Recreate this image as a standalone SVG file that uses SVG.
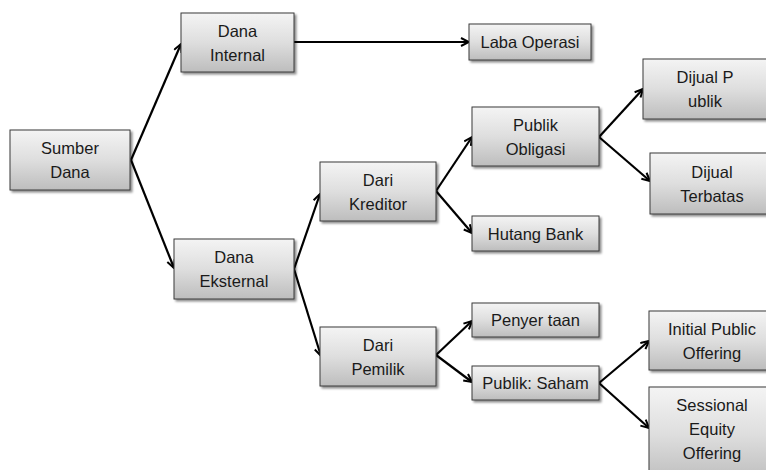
<svg xmlns="http://www.w3.org/2000/svg" width="766" height="470" viewBox="0 0 766 470">
  <defs>
    <linearGradient id="boxFill" x1="0" y1="0" x2="0" y2="1">
      <stop offset="0" stop-color="#f4f4f4"/>
      <stop offset="0.5" stop-color="#dedede"/>
      <stop offset="1" stop-color="#bdbdbd"/>
    </linearGradient>
    <filter id="shadow" x="-10%" y="-10%" width="130%" height="140%">
      <feDropShadow dx="2" dy="2" stdDeviation="1.2" flood-color="#000" flood-opacity="0.45"/>
    </filter>
    <marker id="arrow" viewBox="0 0 10 10" refX="9" refY="5" markerWidth="10" markerHeight="10" markerUnits="userSpaceOnUse" orient="auto">
      <path d="M1,1 L9,5 L1,9" fill="none" stroke="#000" stroke-width="2" stroke-linejoin="miter"/>
    </marker>
    <style>
      .box { fill: url(#boxFill); stroke: #3a3a3a; stroke-width: 1; filter: url(#shadow); }
      .lbl { font-family: "Liberation Sans", Arial, sans-serif; font-size: 16.5px; fill: #1a1a1a; text-anchor: middle; }
      .conn { fill: none; stroke: #000; stroke-width: 2.2; marker-end: url(#arrow); }
    </style>
  </defs>
  <rect width="766" height="470" fill="#ffffff"/>

  <!-- connectors -->
  <g id="connectors">
    <line class="conn" x1="131" y1="160" x2="181" y2="44"/>
    <line class="conn" x1="131" y1="160" x2="174" y2="268"/>
    <line class="conn" x1="294" y1="42" x2="469" y2="42"/>
    <line class="conn" x1="294" y1="269" x2="320" y2="194"/>
    <line class="conn" x1="294" y1="269" x2="321" y2="356"/>
    <line class="conn" x1="436" y1="191" x2="472" y2="137"/>
    <line class="conn" x1="436" y1="191" x2="472" y2="233"/>
    <line class="conn" x1="599" y1="137" x2="643" y2="89"/>
    <line class="conn" x1="599" y1="137" x2="650" y2="181"/>
    <line class="conn" x1="436" y1="355" x2="472" y2="321"/>
    <line class="conn" x1="436" y1="355" x2="472" y2="382"/>
    <line class="conn" x1="599" y1="383" x2="649" y2="341"/>
    <line class="conn" x1="599" y1="383" x2="649" y2="428"/>
  </g>

  <g id="sumber-dana">
    <rect class="box" x="10" y="130" width="120" height="60"/>
    <text class="lbl" x="70" y="154">Sumber</text>
    <text class="lbl" x="70" y="178">Dana</text>
  </g>

  <g id="dana-internal">
    <rect class="box" x="181" y="13" width="113" height="59"/>
    <text class="lbl" x="237.5" y="36.5">Dana</text>
    <text class="lbl" x="237.5" y="60.5">Internal</text>
  </g>

  <g id="dana-eksternal">
    <rect class="box" x="174" y="239" width="120" height="60"/>
    <text class="lbl" x="234" y="263">Dana</text>
    <text class="lbl" x="234" y="287">Eksternal</text>
  </g>

  <g id="laba-operasi">
    <rect class="box" x="469" y="24" width="122" height="36"/>
    <text class="lbl" x="530" y="48">Laba Operasi</text>
  </g>

  <g id="dari-kreditor">
    <rect class="box" x="320" y="162" width="116" height="59"/>
    <text class="lbl" x="378" y="185.5">Dari</text>
    <text class="lbl" x="378" y="209.5">Kreditor</text>
  </g>

  <g id="dari-pemilik">
    <rect class="box" x="320" y="327" width="116" height="59"/>
    <text class="lbl" x="378" y="350.5">Dari</text>
    <text class="lbl" x="378" y="374.5">Pemilik</text>
  </g>

  <g id="publik-obligasi">
    <rect class="box" x="472" y="107" width="127" height="59"/>
    <text class="lbl" x="535.5" y="130.5">Publik</text>
    <text class="lbl" x="535.5" y="154.5">Obligasi</text>
  </g>

  <g id="hutang-bank">
    <rect class="box" x="472" y="216" width="127" height="35"/>
    <text class="lbl" x="535.5" y="239.5">Hutang Bank</text>
  </g>

  <g id="penyertaan">
    <rect class="box" x="472" y="303" width="127" height="34"/>
    <text class="lbl" x="535.5" y="326">Penyer taan</text>
  </g>

  <g id="publik-saham">
    <rect class="box" x="472" y="366" width="127" height="34"/>
    <text class="lbl" x="535.5" y="389">Publik: Saham</text>
  </g>

  <g id="dijual-publik">
    <rect class="box" x="643" y="59" width="124" height="60"/>
    <text class="lbl" x="705" y="83">Dijual P</text>
    <text class="lbl" x="705" y="107">ublik</text>
  </g>

  <g id="dijual-terbatas">
    <rect class="box" x="650" y="153" width="124" height="61"/>
    <text class="lbl" x="712" y="177.5">Dijual</text>
    <text class="lbl" x="712" y="201.5">Terbatas</text>
  </g>

  <g id="initial-public-offering">
    <rect class="box" x="649" y="311" width="126" height="59"/>
    <text class="lbl" x="712" y="334.5">Initial Public</text>
    <text class="lbl" x="712" y="358.5">Offering</text>
  </g>

  <g id="sessional-equity-offering">
    <rect class="box" x="649" y="387" width="126" height="95"/>
    <text class="lbl" x="712" y="411">Sessional</text>
    <text class="lbl" x="712" y="435">Equity</text>
    <text class="lbl" x="712" y="459">Offering</text>
  </g>
</svg>
